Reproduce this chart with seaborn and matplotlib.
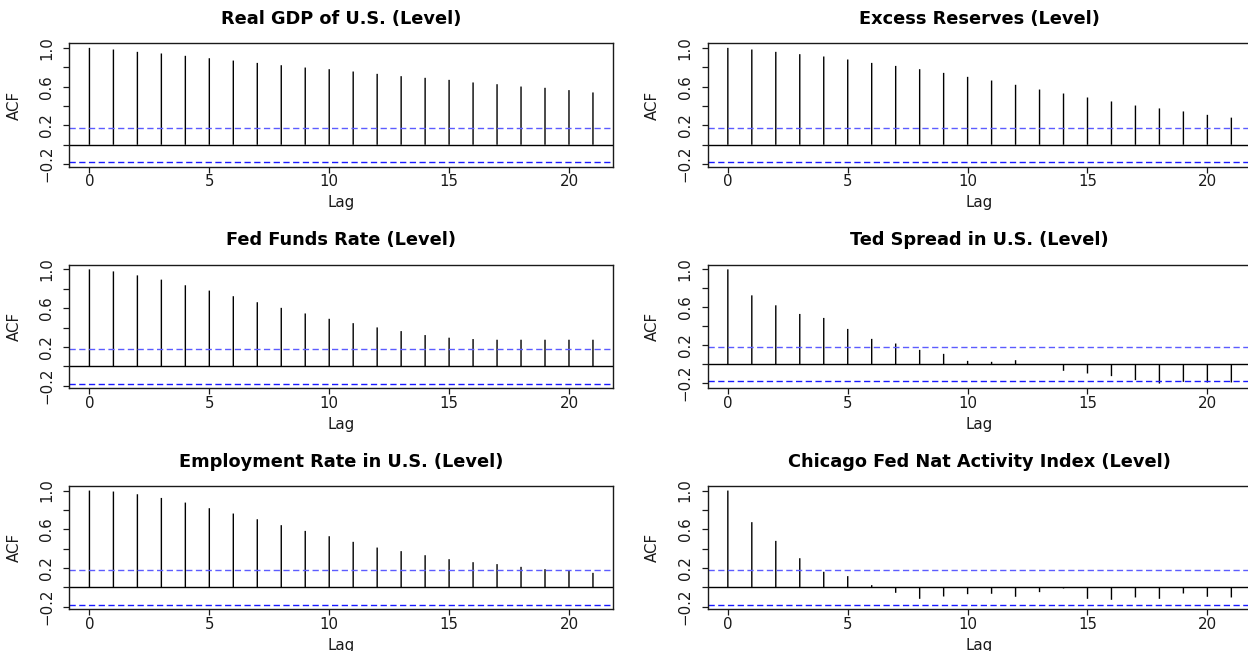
import numpy as np
import pandas as pd
import matplotlib
matplotlib.use("Agg")
import matplotlib.pyplot as plt
import seaborn as sns

# --------------------------------------------------------------------------------
# data (ACF by lag)
# --------------------------------------------------------------------------------
lags = list(range(22))
conf_bound = 0.178

titles = [
    "Real GDP of U.S. (Level)",
    "Excess Reserves (Level)",
    "Fed Funds Rate (Level)",
    "Ted Spread in U.S. (Level)",
    "Employment Rate in U.S. (Level)",
    "Chicago Fed Nat Activity Index (Level)",
]

acf_gdp = [1.0, 0.983, 0.959, 0.942, 0.918, 0.893, 0.869, 0.845, 0.821, 0.797, 0.780,
           0.756, 0.732, 0.708, 0.691, 0.670, 0.643, 0.625, 0.601, 0.588, 0.564, 0.540]
acf_reserves = [1.0, 0.983, 0.959, 0.935, 0.911, 0.880, 0.845, 0.814, 0.780, 0.742, 0.701,
                0.663, 0.619, 0.570, 0.529, 0.488, 0.447, 0.405, 0.375, 0.344, 0.309, 0.280]
acf_fedfunds = [1.0, 0.979, 0.938, 0.894, 0.836, 0.781, 0.723, 0.661, 0.603, 0.545, 0.490,
                0.445, 0.401, 0.363, 0.322, 0.295, 0.281, 0.274, 0.274, 0.274, 0.274, 0.274]
acf_ted = [1.0, 0.726, 0.621, 0.530, 0.488, 0.372, 0.267, 0.218, 0.151, 0.109, 0.035,
           0.025, 0.042, -0.004, -0.070, -0.098, -0.126, -0.168, -0.204, -0.186, -0.193, -0.193]
acf_employment = [1.0, 0.990, 0.962, 0.924, 0.876, 0.818, 0.763, 0.704, 0.643, 0.584, 0.529,
                  0.471, 0.412, 0.375, 0.333, 0.292, 0.261, 0.241, 0.213, 0.189, 0.172, 0.151]
acf_cfnai = [1.0, 0.674, 0.481, 0.302, 0.162, 0.117, 0.024, -0.055, -0.117, -0.093, -0.069,
             -0.065, -0.096, -0.048, -0.010, -0.117, -0.127, -0.103, -0.117, -0.062, -0.096, -0.103]

series = [acf_gdp, acf_reserves, acf_fedfunds, acf_ted, acf_employment, acf_cfnai]

# --------------------------------------------------------------------------------
sns.set_style("ticks")
plt.rcParams["font.family"] = ["DejaVu Sans"]

W, H = 1248, 651
fig = plt.figure(figsize=(W / 100, H / 100), dpi=100)

col_left = [69.3, 707.7]
box_w = 543.8
row_top = [43.3, 264.8, 486.0]
box_h = 123.3
fs = 10.8
dark = "#1a1a1a"

for i, (title, acf) in enumerate(zip(titles, series)):
    r, c = divmod(i, 2)
    ax = fig.add_axes([col_left[c] / W, 1 - (row_top[r] + box_h) / H, box_w / W, box_h / H])
    df = pd.DataFrame({"Lag": lags, "ACF": acf})

    sns.barplot(data=df, x="Lag", y="ACF", native_scale=True, width=0.058,
                color="black", linewidth=0, errorbar=None, ax=ax)
    for p in ax.patches:
        p.set_snap(False)

    ax.axhline(0, color="black", lw=1)
    ax.axhline(conf_bound, color="#5c5cff", lw=1, ls=(0, (4.5, 2.5)))
    ax.axhline(-conf_bound, color="#1a1aff", lw=1, ls=(0, (4.5, 2.5)))

    # R style limits: range of data with 4% padding
    lo = min(-conf_bound, min(acf))
    span = 1 - lo
    ax.set_ylim(lo - 0.04 * span, 1 + 0.04 * span)
    ax.set_xlim(-0.04 * 21, 21 + 0.04 * 21)

    ax.set_xticks([0, 5, 10, 15, 20])
    ax.set_xticklabels(["0", "5", "10", "15", "20"], fontsize=fs, color=dark)
    yt = [-0.2, 0.0, 0.2, 0.4, 0.6, 0.8, 1.0]
    ax.set_yticks(yt)
    ax.set_yticklabels(["\u22120.2", "", "0.2", "", "0.6", "", "1.0"],
                       fontsize=fs, rotation=90, va="center", color=dark)
    ax.tick_params(axis="x", length=4.3, width=0.9, color=dark, pad=1.2)
    ax.tick_params(axis="y", length=4.3, width=0.9, color=dark, pad=6.5)

    for s in ax.spines.values():
        s.set_visible(True)
        s.set_color(dark)
        s.set_linewidth(1)

    ax.set_xlabel("Lag", fontsize=fs, color=dark, va="center")
    ax.xaxis.set_label_coords(0.5, -36 / box_h)
    ax.set_ylabel("ACF", fontsize=fs, color=dark, va="center")
    ax.yaxis.set_label_coords(-55 / box_w, 0.5)
    ax.set_title(title, fontsize=12.8, fontweight="bold", color="black", pad=14)

fig.savefig("out.png", dpi=100)
